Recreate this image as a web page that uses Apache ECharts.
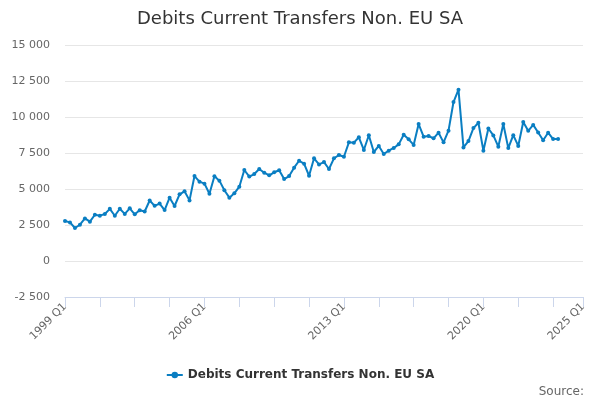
<!DOCTYPE html>
<html>
<head>
<meta charset="utf-8">
<script src="https://cdn.jsdelivr.net/npm/echarts@6/dist/echarts.min.js"></script>
<style>
  html, body { margin: 0; padding: 0; background: #fff; }
  #chart { width: 600px; height: 400px; }
</style>
</head>
<body>
<div id="chart"></div>
<script>
(function () {
  var byId = function (id) {
    return document.getElementById(id);
  };

  // quarters 1999 Q1 .. 2025 Q1
  var firstYear = 1999;
  var lastYear = 2025;
  var quarters = [];
  for (var y = firstYear; y <= lastYear; y++) {
    for (var q = 1; q <= 4; q++) {
      if (y === lastYear && q > 1) break;
      quarters.push(y + ' Q' + q);
    }
  }

  var seriesName = 'Debits Current Transfers Non. EU SA';
  // 1999 Q1 .. 2023 Q4
  var debits = [
    2780, 2680, 2290, 2520, 2960, 2730, 3210, 3150, 3260, 3620,
    3140, 3630, 3270, 3660, 3240, 3520, 3440, 4200, 3830, 3990,
    3540, 4400, 3820, 4630, 4840, 4210, 5900, 5510, 5370, 4670,
    5880, 5580, 4910, 4400, 4700, 5160, 6320, 5860, 6040, 6390,
    6130, 5950, 6160, 6300, 5690, 5900, 6480, 6960, 6760, 5920,
    7130, 6710, 6870, 6390, 7130, 7360, 7240, 8240, 8220, 8590,
    7710, 8730, 7570, 7990, 7430, 7660, 7850, 8100, 8770, 8450,
    8060, 9510, 8630, 8680, 8520, 8910, 8240, 9050, 11040, 11900,
    7890, 8330, 9230, 9600, 7660, 9200, 8720, 7940, 9510, 7840,
    8740, 7990, 9650, 9040, 9450, 8920, 8390, 8910, 8470, 8470
  ];

  var yMin = -2500;
  var yMax = 15000;
  var yStep = 2500;
  var labelEvery = 28;
  var tickEvery = 7;

  var lineColor = '#0a7ec2';
  var lastIdx = quarters.length - 1;

  var chart = echarts.init(byId('chart'));
  chart.setOption({
    animation: false,
    textStyle: { fontFamily: 'DejaVu Sans' },
    title: [{
      text: 'Debits Current Transfers Non. EU SA',
      left: 'center',
      top: 5,
      textStyle: { fontSize: 18, fontWeight: 'normal', color: '#333' }
    }, {
      text: 'Source:',
      right: 11,
      top: 381,
      textStyle: { fontSize: 12, fontWeight: 'normal', color: '#666' }
    }],
    legend: {
      top: 364,
      left: 'center',
      itemWidth: 16,
      itemHeight: 8,
      itemGap: 10,
      textStyle: { fontSize: 12, fontWeight: 'bold', color: '#333' },
      data: [seriesName]
    },
    grid: {
      left: 65,
      right: 17,
      top: 45,
      bottom: 103,
      containLabel: false,
      outerBoundsMode: 'none'
    },
    xAxis: {
      type: 'category',
      data: quarters,
      boundaryGap: false,
      axisLine: { onZero: false, lineStyle: { color: '#ccd6eb' } },
      axisTick: {
        length: 10,
        lineStyle: { color: '#ccd6eb' },
        interval: function (i) { return i % tickEvery === 0 || i === lastIdx; }
      },
      axisLabel: {
        rotate: 45,
        fontSize: 11,
        color: '#666',
        margin: 8,
        interval: function (i) { return i % labelEvery === 0 || i === lastIdx; },
        showMaxLabel: true
      },
      splitLine: { show: false }
    },
    yAxis: {
      type: 'value',
      min: yMin,
      max: yMax,
      interval: yStep,
      axisLine: { show: false },
      axisTick: { show: false },
      axisLabel: {
        fontSize: 11,
        color: '#666',
        margin: 15,
        formatter: function (v) {
          return String(v).replace(/\B(?=(\d{3})+(?!\d))/g, ' ');
        }
      },
      splitLine: { lineStyle: { color: '#e6e6e6' } }
    },
    series: [{
      name: seriesName,
      type: 'line',
      data: debits,
      color: lineColor,
      symbol: 'circle',
      symbolSize: 4,
      showSymbol: true,
      showAllSymbol: true,
      lineStyle: { width: 2, color: lineColor },
      itemStyle: { color: lineColor }
    }]
  });
})();
</script>
</body>
</html>
